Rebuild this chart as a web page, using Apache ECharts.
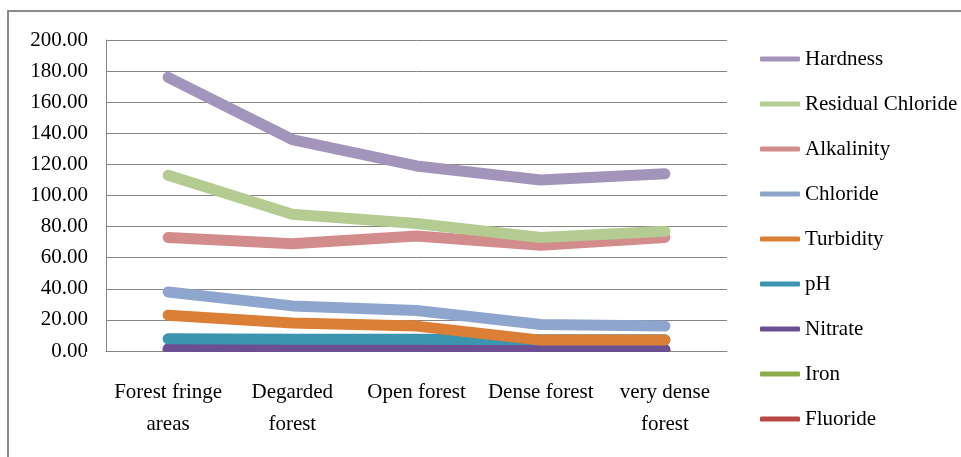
<!DOCTYPE html>
<html>
<head>
<meta charset="utf-8">
<script src="https://cdn.jsdelivr.net/npm/echarts@6/dist/echarts.min.js"></script>
<style>
  html, body { margin: 0; padding: 0; background: #fff; }
  #chart { width: 961px; height: 457px; }
</style>
</head>
<body>
<div id="chart"></div>
<script>
// categories and series values
const categories = ['Forest fringe\nareas', 'Degarded\nforest', 'Open forest', 'Dense forest', 'very dense\nforest'];
const hardness = [176, 136, 119, 110, 114];
const residualChloride = [113, 88, 82, 73, 77];
const alkalinity = [73, 69, 74, 68, 73];
const chloride = [38, 29, 26, 17, 16];
const turbidity = [23, 18, 16, 7, 7];
const ph = [7.8, 7.6, 7.5, 7.2, 7.3];
const nitrate = [1.4, 1.3, 1.2, 1.1, 1.1];
const iron = [0.3, 0.3, 0.2, 0.2, 0.2];
const fluoride = [0.6, 0.5, 0.5, 0.4, 0.4];
const yTicks = { min: 0, max: 200, interval: 20 };

const seriesDefs = [
  { name: 'Hardness', data: hardness, color: '#A294BA' },
  { name: 'Residual Chloride', data: residualChloride, color: '#B4CB91' },
  { name: 'Alkalinity', data: alkalinity, color: '#D38C8C' },
  { name: 'Chloride', data: chloride, color: '#8EA6CE' },
  { name: 'Turbidity', data: turbidity, color: '#DC7F36' },
  { name: 'pH', data: ph, color: '#3C95AE' },
  { name: 'Nitrate', data: nitrate, color: '#6B4F92' },
  { name: 'Iron', data: iron, color: '#8AAF4A' },
  { name: 'Fluoride', data: fluoride, color: '#B94845' }
];

const FONT = "'Liberation Serif', 'Times New Roman', serif";
const grid = { left: 106, top: 40, right: 234, bottom: 106 };
const axisBottom = 457 - grid.bottom;

const myChart = echarts.init(document.getElementById('chart'));
const option = {
  animation: false,
  color: seriesDefs.map(s => s.color),
  grid: grid,
  legend: {
    orient: 'vertical',
    left: 755,
    top: 42,
    itemWidth: 40,
    itemHeight: 5,
    itemGap: 21,
    icon: 'roundRect',
    textStyle: { fontFamily: FONT, fontSize: 21, color: '#000', lineHeight: 24 },
    data: seriesDefs.map(s => s.name)
  },
  xAxis: {
    type: 'category',
    data: categories,
    boundaryGap: true,
    axisTick: { show: false },
    axisLine: { lineStyle: { color: '#868686', width: 1 } },
    axisLabel: { fontFamily: FONT, fontSize: 21, color: '#000', lineHeight: 32, margin: 25, interval: 0 }
  },
  yAxis: {
    type: 'value',
    min: yTicks.min,
    max: yTicks.max,
    interval: yTicks.interval,
    axisTick: { show: false },
    axisLine: { show: true, lineStyle: { color: '#868686', width: 1 } },
    splitLine: { lineStyle: { color: '#868686', width: 1 } },
    axisLabel: { fontFamily: FONT, fontSize: 21, color: '#000', margin: 18, formatter: v => v.toFixed(2) }
  },
  graphic: [
    {
      // outer chart border
      type: 'rect', z: -10,
      shape: { x: 8, y: 11, width: 1000, height: 500 },
      style: { fill: 'none', stroke: '#8a8a8a', lineWidth: 2 }
    },
    {
      // keep thick lines from spilling under the category axis
      type: 'rect', z: 100,
      shape: { x: grid.left - 20, y: axisBottom + 1, width: 961 - grid.left - grid.right + 40, height: 10 },
      style: { fill: '#fff' }
    }
  ],
  series: seriesDefs.map((s, i) => ({
    name: s.name,
    type: 'line',
    data: s.data,
    z: 20 - i,
    symbol: 'none',
    showSymbol: false,
    lineStyle: { width: 11, color: s.color, cap: 'round', join: 'round' },
    itemStyle: { color: s.color }
  }))
};
myChart.setOption(option);
</script>
</body>
</html>
